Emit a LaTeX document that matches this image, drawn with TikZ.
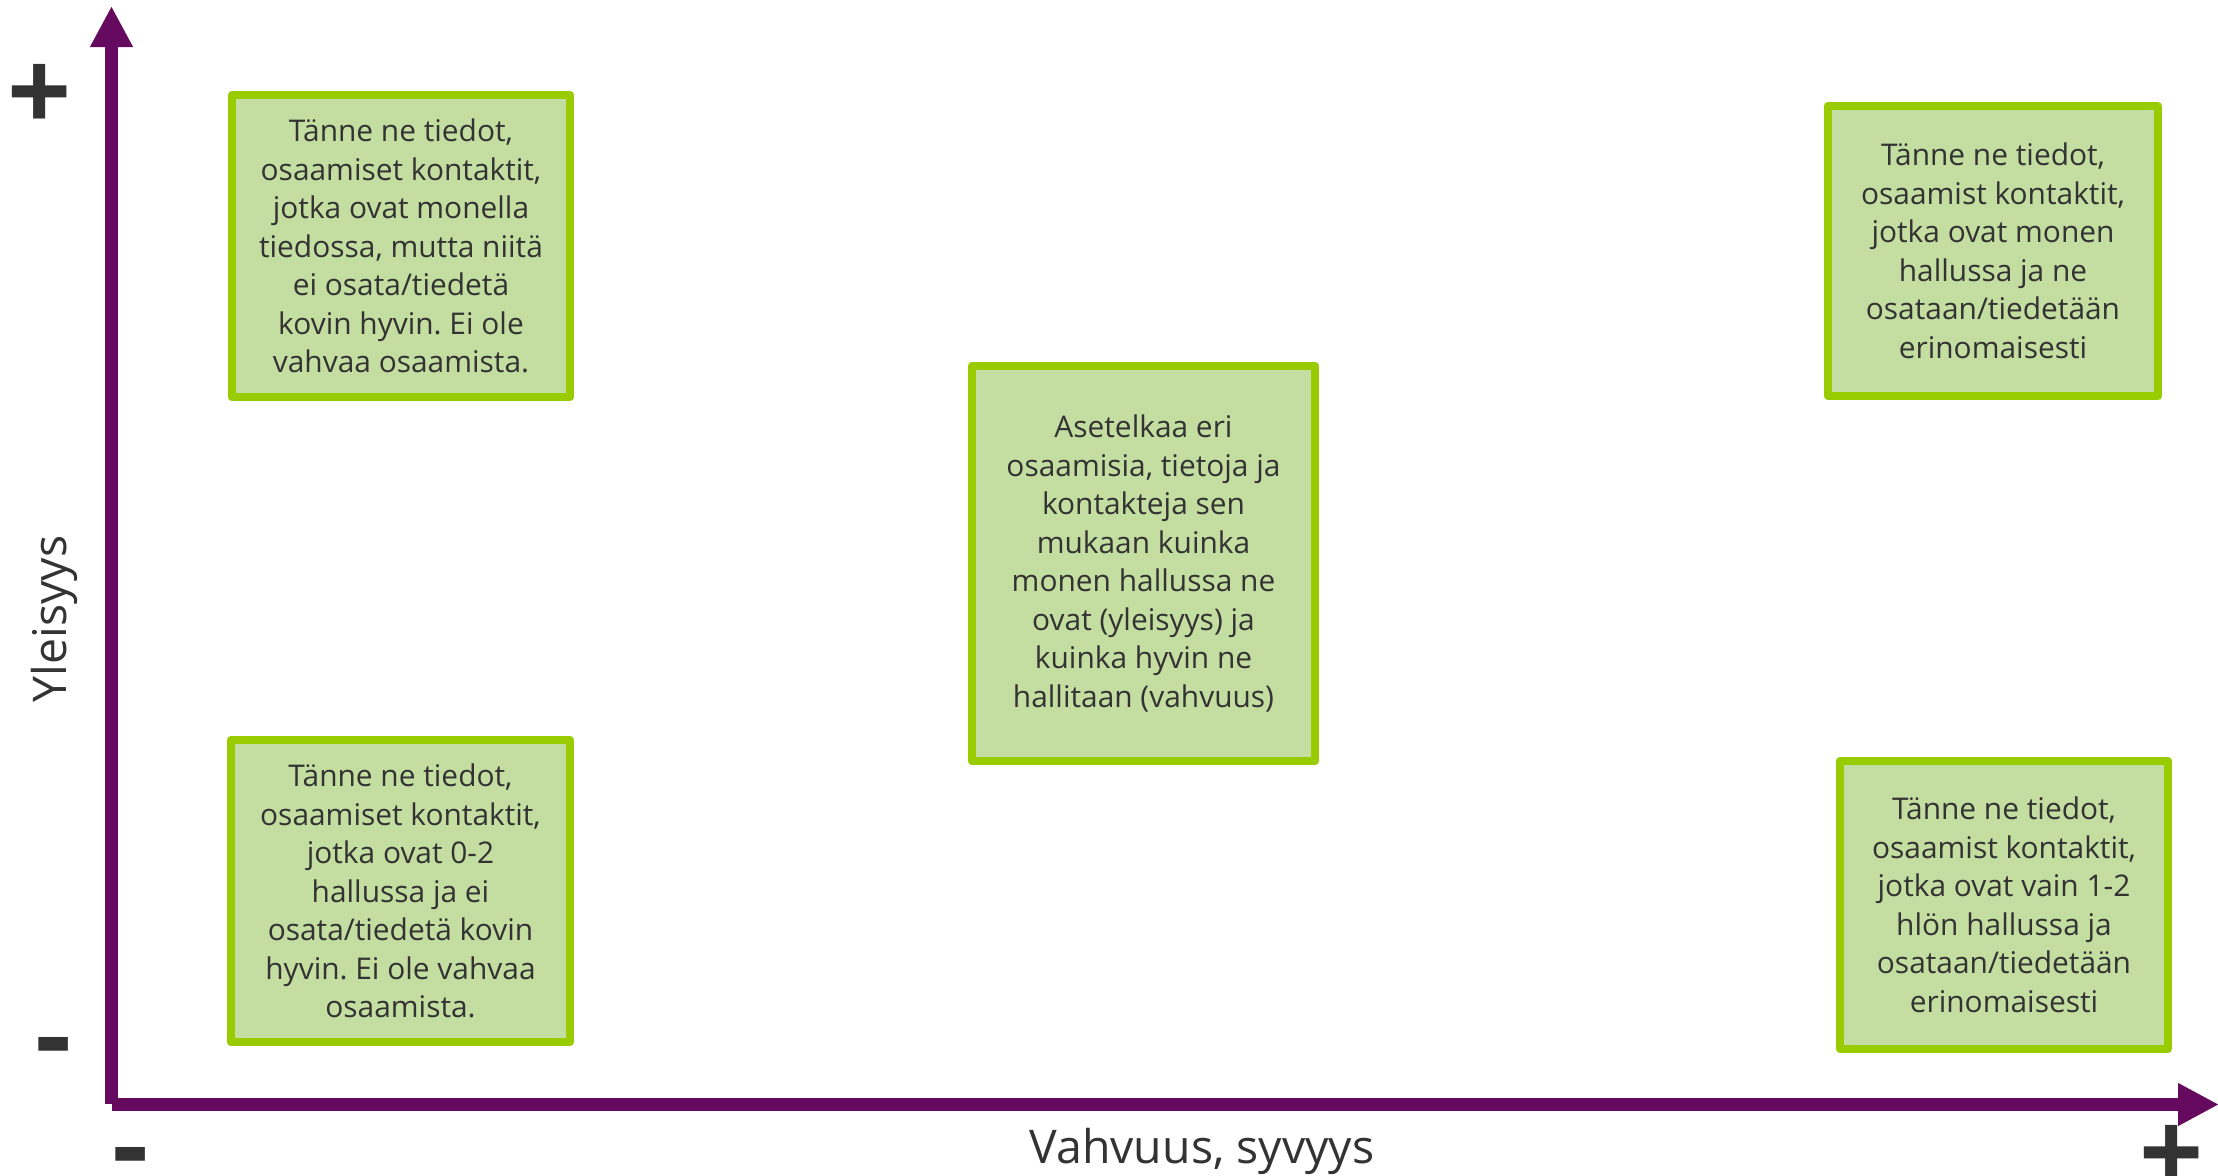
\documentclass[tikz,border=0pt]{standalone}
\usepackage{fontspec}
\setmainfont{Open Sans}
\usepackage{tikz}
\usetikzlibrary{arrows.meta, positioning}
\definecolor{axispurple}{HTML}{650A5E}
\definecolor{boxgreen}{HTML}{C4DDA0}
\definecolor{boxedge}{HTML}{99CC00}
\definecolor{textgray}{HTML}{333333}
\frenchspacing
\tikzset{
    quad/.style args={#1 #2}{
        draw=boxedge, fill=boxgreen, line width=0.08cm, line join=round,
        minimum width=#1cm, minimum height=#2cm, inner sep=0pt,
        align=center, text=textgray, font=\fontsize{8.5}{10.95}\selectfont
    },
    axisarrow/.style={
        draw=axispurple, line width=0.13cm,
        -{Triangle[length=0.41cm, width=0.40cm]}
    },
    sign/.style={text=textgray, inner sep=0pt, font=\fontsize{32}{32}\selectfont\bfseries},
    axislabel/.style={text=textgray, inner sep=0pt, anchor=base, font=\fontsize{13.2}{14}\selectfont}
}

\begin{document}
\begin{tikzpicture}[x=0.01cm, y=-0.01cm]
    \useasboundingbox (0,0) rectangle (2218,1176);
    % axes
    \coordinate (o1) at (111.5,1104);
    \coordinate (o2) at (112,1104.5);
    \coordinate (ytip) at (111.5,6);
    \coordinate (xtip) at (2219,1104.5);
    \draw[axisarrow] (o1) -- (ytip);
    \draw[axisarrow] (o2) -- (xtip);
    % quadrant boxes
    \node[quad={3.38 3.02}] (q1) at (401,246) {Tänne ne tiedot,\\ osaamiset kontaktit,\\ jotka ovat monella\\ tiedossa, mutta niitä\\ ei osata/tiedetä\\ kovin hyvin. Ei ole\\ vahvaa osaamista.};
    \node[quad={3.39 3.02}] (q2) at (400.5,891) {Tänne ne tiedot,\\ osaamiset kontaktit,\\ jotka ovat 0-2\\ hallussa ja ei\\ osata/tiedetä kovin\\ hyvin. Ei ole vahvaa\\ osaamista.};
    \node[quad={3.43 3.95}] (q3) at (1143.5,563.5) {Asetelkaa eri\\ osaamisia, tietoja ja\\ kontakteja sen\\ mukaan kuinka\\ monen hallussa ne\\ ovat (yleisyys) ja\\ kuinka hyvin ne\\ hallitaan (vahvuus)};
    \node[quad={3.30 2.90}] (q4) at (1993,251) {Tänne ne tiedot,\\ osaamist kontaktit,\\ jotka ovat monen\\ hallussa ja ne\\ osataan/tiedetään\\ erinomaisesti};
    \node[quad={3.28 2.88}] (q5) at (2004,905) {Tänne ne tiedot,\\ osaamist kontaktit,\\ jotka ovat vain 1-2\\ hlön hallussa ja\\ osataan/tiedetään\\ erinomaisesti};
    % axis labels and signs
    \node[axislabel] (xlab) at (1202,1163) {Vahvuus, syvyys};
    \node[axislabel, rotate=90] (ylab) at (66,619) {Yleisyys};
    \node[sign, anchor=base] (yplus) at (40,132) {+};
    \node[sign] (yminus) at (54,1044) {\raisebox{-0.27em}[0.06em][0.06em]{-}};
    \node[sign] (xminus) at (131,1154) {\raisebox{-0.27em}[0.06em][0.06em]{-}};
    \node[sign, anchor=base] (xplus) at (2172,1192) {+};
\end{tikzpicture}
\end{document}
